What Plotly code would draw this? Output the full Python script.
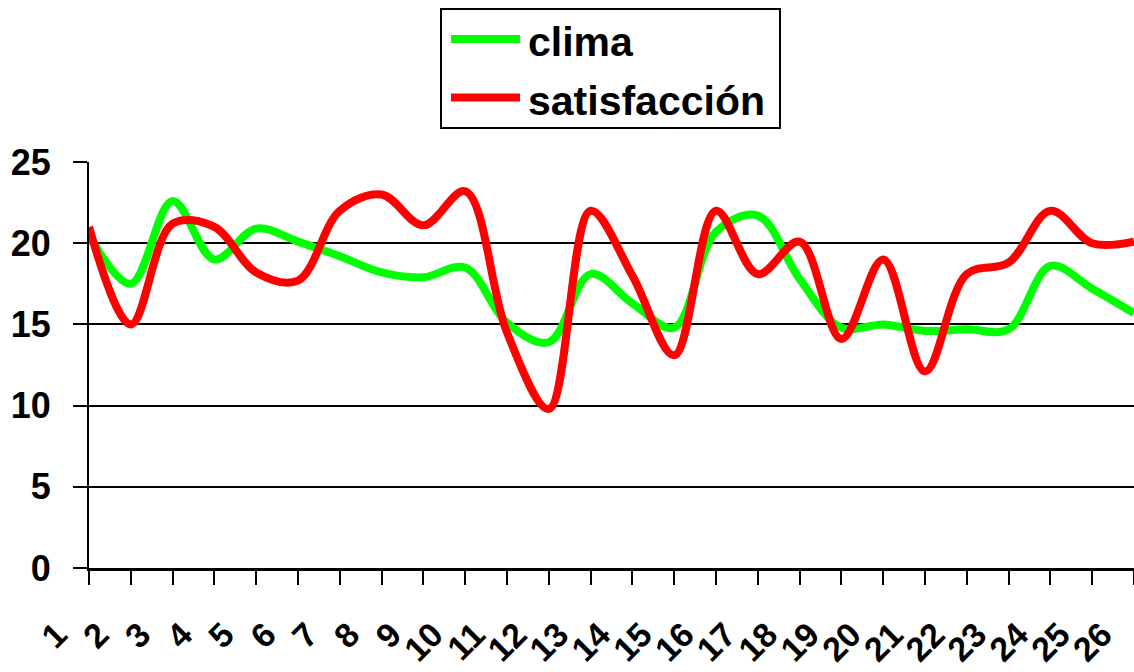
import plotly.graph_objects as go

# Survey items and the two series plotted over them
categories = list(range(1, 27))
clima = [20.5, 17.5, 22.6, 19.0, 20.9, 20.1, 19.2, 18.2, 17.9, 18.5, 15.1, 13.9, 18.1,
         16.3, 14.8, 20.7, 21.7, 17.8, 14.8, 15.0, 14.6, 14.7, 14.7, 18.6, 17.2, 15.7]
satisfaccion = [21.0, 15.0, 21.2, 21.0, 18.2, 17.7, 22.0, 23.0, 21.1, 23.2, 14.5, 9.8, 22.0,
                18.0, 13.1, 22.0, 18.1, 20.1, 14.1, 19.0, 12.1, 18.1, 18.8, 22.0, 20.0, 20.1]
series_names = ["clima", "satisfacción"]
series_colors = ["#00ff00", "#ff0000"]
y_ticks = [0, 5, 10, 15, 20, 25]

W, H = 1134, 672
M_L, M_R, M_T, M_B = 89, 0, 162, 104
FONT = "Liberation Sans, Arial, sans-serif"

fig = go.Figure()
for name, vals, col in zip(series_names, [clima, satisfaccion], series_colors):
    fig.add_trace(go.Scatter(
        x=categories, y=vals, name=name, mode="lines",
        line=dict(color=col, width=8, shape="spline", smoothing=1.0),
        showlegend=False, cliponaxis=True,
    ))

# Boxed legend above the plot, placed in pixel terms converted to paper units
pw, ph = W - M_L - M_R, H - M_T - M_B
def px(x):
    return (x - M_L) / pw
def py(y):
    return (H - M_B - y) / ph

shapes = [dict(type="rect", xref="paper", yref="paper",
               x0=px(441), x1=px(780), y0=py(128), y1=py(9),
               line=dict(color="black", width=2), fillcolor="white")]
annotations = []
for i, (name, col) in enumerate(zip(series_names, series_colors)):
    yy = 39 + i * 58.5
    shapes.append(dict(type="line", xref="paper", yref="paper",
                       x0=px(451), x1=px(520), y0=py(yy), y1=py(yy),
                       line=dict(color=col, width=8)))
    annotations.append(dict(text=f"<b>{name}</b>", xref="paper", yref="paper",
                            x=px(526), y=py(yy + 3), xanchor="left", yanchor="middle",
                            showarrow=False, font=dict(family=FONT, size=41, color="black")))

fig.update_layout(
    width=W, height=H,
    margin=dict(l=M_L, r=M_R, t=M_T, b=M_B, pad=0, autoexpand=False),
    paper_bgcolor="white", plot_bgcolor="white",
    font=dict(family=FONT, color="black"),
    shapes=shapes, annotations=annotations,
    showlegend=False,
)
fig.update_xaxes(
    range=[1, 26], tickmode="array", tickvals=categories,
    ticktext=[f"<b>{c}</b>" for c in categories],
    tickangle=-45, tickfont=dict(family=FONT, size=34, color="black"),
    ticks="outside", ticklen=14, tickwidth=2, tickcolor="black",
    ticklabelstandoff=16, ticklabelshift=-32, ticklabeloverflow="allow",
    showline=True, linecolor="black", linewidth=3,
    showgrid=False, zeroline=False, automargin=False,
)
fig.update_yaxes(
    range=[0, 25], tickmode="array", tickvals=y_ticks,
    ticktext=[f"<b>{v}</b>" for v in y_ticks],
    tickfont=dict(family=FONT, size=36, color="black"),
    ticks="outside", ticklen=14, tickwidth=2, tickcolor="black",
    ticklabelstandoff=15,
    showline=True, linecolor="black", linewidth=2,
    showgrid=True, gridcolor="black", gridwidth=2, zeroline=False,
    automargin=False,
)

fig.write_html("out.html")
